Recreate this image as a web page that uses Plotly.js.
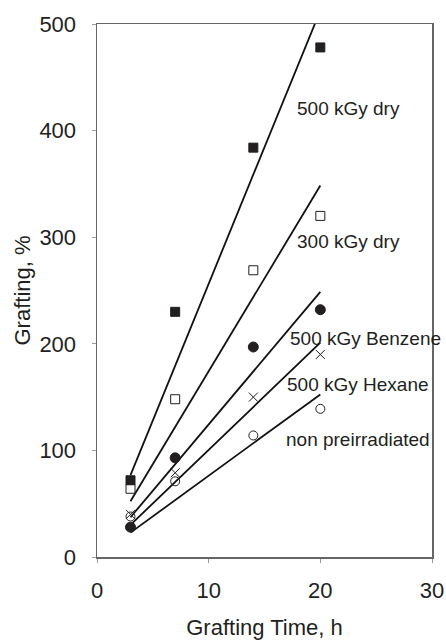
<!DOCTYPE html>
<html>
<head>
<meta charset="utf-8">
<script src="https://cdn.plot.ly/plotly-3.0.1.min.js"></script>
<style>html,body{margin:0;padding:0;background:#fff;}#chart{width:446px;height:640px;}</style>
</head>
<body>
<div id="chart"></div>
<script>
// Grafting time (h)
const time = [3, 7, 14, 20];
// Grafting (%) per series
const dry500 = [72, 230, 384, 478];
const dry300 = [64, 148, 269, 320];
const benzene500 = [28, 93, 197, 232];
const hexane500 = [40, 79, 150, 190];
const nonPre = [38, 71, 114, 139];

const seriesNames = ["500 kGy dry", "300 kGy dry", "500 kGy Benzene", "500 kGy Hexane", "non preirradiated"];
// label anchor positions in data units
const labelX = [17.7, 17.7, 17.1, 16.8, 16.75];
const labelY = [421, 296, 205, 162, 110];

const allSeries = [dry500, dry300, benzene500, hexane500, nonPre];
const symbols = ["square", "square-open", "circle", "x-thin-open", "circle-open"];
const sizes = [9, 9, 10, 9, 9];
const ink = "#231f20";

// least squares fit through origin
function slopeThroughOrigin(xs, ys) {
  let sxy = 0, sxx = 0;
  for (let i = 0; i < xs.length; i++) { sxy += xs[i] * ys[i]; sxx += xs[i] * xs[i]; }
  return sxy / sxx;
}

const traces = [];
allSeries.forEach((ys, i) => {
  const k = slopeThroughOrigin(time, ys);
  const x0 = time[0], x1 = time[time.length - 1];
  traces.push({
    x: [x0, x1], y: [k * x0, k * x1], mode: "lines", type: "scatter",
    line: {color: "#111", width: 1.8}, hoverinfo: "skip", showlegend: false
  });
});
allSeries.forEach((ys, i) => {
  traces.push({
    x: time, y: ys, mode: "markers", type: "scatter", name: seriesNames[i],
    marker: {symbol: symbols[i], size: sizes[i], color: ink,
             line: {color: ink, width: 1}},
    cliponaxis: false, showlegend: false
  });
});

const annotations = seriesNames.map((t, i) => ({
  x: labelX[i], y: labelY[i], xref: "x", yref: "y", text: t, showarrow: false,
  xanchor: "left", yanchor: "middle", font: {size: 19, color: ink}
}));

const layout = {
  width: 446, height: 640,
  margin: {l: 97, r: 14, t: 24, b: 83},
  paper_bgcolor: "#fff", plot_bgcolor: "#fff",
  font: {family: "Arial, 'Liberation Sans', sans-serif", color: ink, size: 22},
  showlegend: false,
  xaxis: {
    range: [0, 30], tickvals: [0, 10, 20, 30], ticks: "outside", ticklen: 4,
    tickcolor: "#999", showgrid: false, zeroline: false,
    showline: true, linecolor: "#666", linewidth: 1.5, mirror: true,
    tickfont: {size: 22}, ticklabelstandoff: 9,
    title: {text: "Grafting Time, h", font: {size: 22}, standoff: 23}
  },
  yaxis: {
    range: [0, 500], tickvals: [0, 100, 200, 300, 400, 500], ticks: "outside", ticklen: 4,
    tickcolor: "#999", showgrid: false, zeroline: false,
    showline: true, linecolor: "#666", linewidth: 1.5, mirror: true,
    tickfont: {size: 22}, ticklabelstandoff: 11,
    title: {text: "Grafting, %", font: {size: 22}, standoff: 2}
  },
  annotations: annotations
};

Plotly.newPlot("chart", traces, layout, {staticPlot: true, displayModeBar: false});
</script>
</body>
</html>
